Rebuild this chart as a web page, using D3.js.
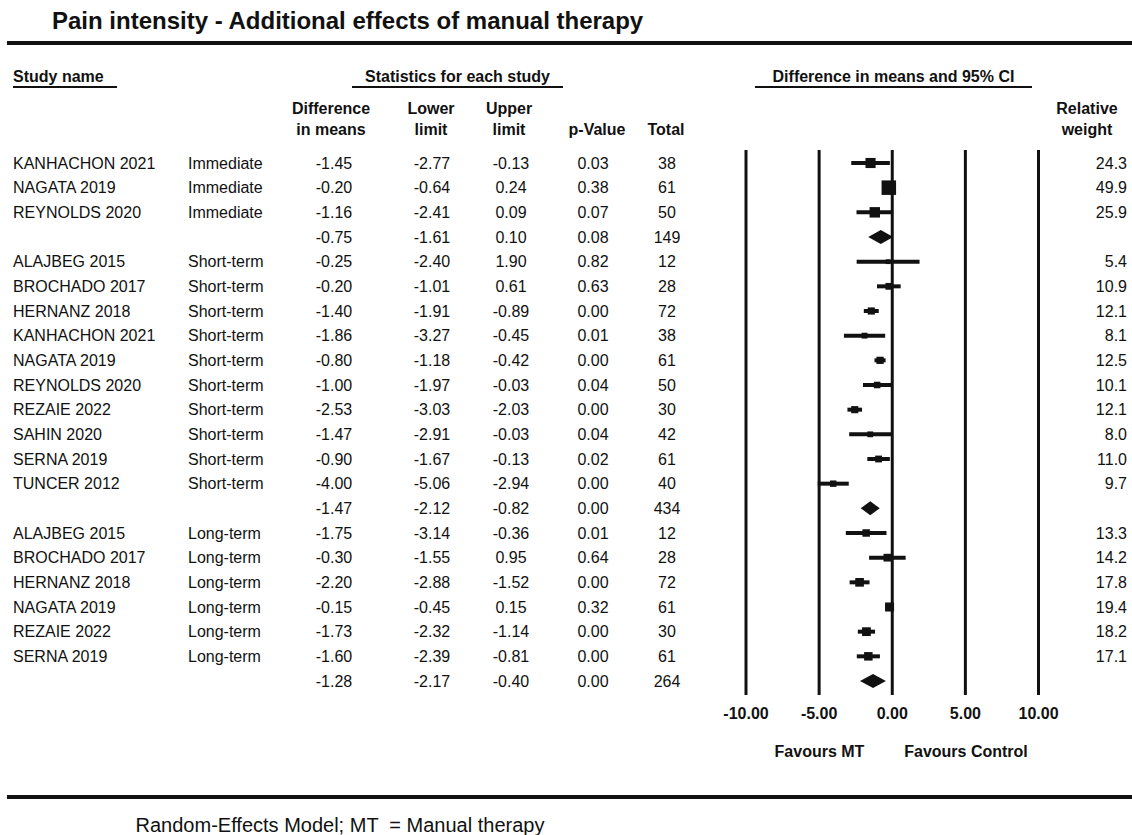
<!DOCTYPE html>
<html>
<head>
<meta charset="utf-8">
<script src="https://cdn.jsdelivr.net/npm/d3@7/dist/d3.min.js"></script>
<style>
  html, body { margin: 0; padding: 0; background: #fff; }
  svg { display: block; font-family: "Liberation Sans", Arial, sans-serif; }
  .axis .domain { display: none; }
</style>
</head>
<body>
<svg id="chart" width="1132" height="835"></svg>
<script>
// Study rows; an empty name marks the pooled (subgroup) estimate row
const studyNames = [
  "KANHACHON 2021", "NAGATA 2019", "REYNOLDS 2020", "",
  "ALAJBEG 2015", "BROCHADO 2017", "HERNANZ 2018", "KANHACHON 2021", "NAGATA 2019",
  "REYNOLDS 2020", "REZAIE 2022", "SAHIN 2020", "SERNA 2019", "TUNCER 2012", "",
  "ALAJBEG 2015", "BROCHADO 2017", "HERNANZ 2018", "NAGATA 2019", "REZAIE 2022", "SERNA 2019", ""
];
const timepoints = [
  "Immediate", "Immediate", "Immediate", "",
  "Short-term", "Short-term", "Short-term", "Short-term", "Short-term",
  "Short-term", "Short-term", "Short-term", "Short-term", "Short-term", "",
  "Long-term", "Long-term", "Long-term", "Long-term", "Long-term", "Long-term", ""
];
const diffInMeans = [
  -1.45, -0.20, -1.16, -0.75,
  -0.25, -0.20, -1.40, -1.86, -0.80, -1.00, -2.53, -1.47, -0.90, -4.00, -1.47,
  -1.75, -0.30, -2.20, -0.15, -1.73, -1.60, -1.28
];
const lowerLimit = [
  -2.77, -0.64, -2.41, -1.61,
  -2.40, -1.01, -1.91, -3.27, -1.18, -1.97, -3.03, -2.91, -1.67, -5.06, -2.12,
  -3.14, -1.55, -2.88, -0.45, -2.32, -2.39, -2.17
];
const upperLimit = [
  -0.13, 0.24, 0.09, 0.10,
  1.90, 0.61, -0.89, -0.45, -0.42, -0.03, -2.03, -0.03, -0.13, -2.94, -0.82,
  -0.36, 0.95, -1.52, 0.15, -1.14, -0.81, -0.40
];
const pValues = [
  0.03, 0.38, 0.07, 0.08,
  0.82, 0.63, 0.00, 0.01, 0.00, 0.04, 0.00, 0.04, 0.02, 0.00, 0.00,
  0.01, 0.64, 0.00, 0.32, 0.00, 0.00, 0.00
];
const totals = [
  38, 61, 50, 149,
  12, 28, 72, 38, 61, 50, 30, 42, 61, 40, 434,
  12, 28, 72, 61, 30, 61, 264
];
const relativeWeights = [
  24.3, 49.9, 25.9, null,
  5.4, 10.9, 12.1, 8.1, 12.5, 10.1, 12.1, 8.0, 11.0, 9.7, null,
  13.3, 14.2, 17.8, 19.4, 18.2, 17.1, null
];
const axisTicks = [-10, -5, 0, 5, 10];

const rows = studyNames.map((name, i) => ({
  name, time: timepoints[i], diff: diffInMeans[i], lo: lowerLimit[i], hi: upperLimit[i],
  p: pValues[i], total: totals[i], weight: relativeWeights[i], summary: name === ""
}));

const svg = d3.select("#chart");
const ink = "#111";
const fixed2 = v => v.toFixed(2);

// Row positions
const y = d3.scalePoint().domain(d3.range(rows.length)).range([163, 681]);
// Effect-size scale for the forest plot
const x = d3.scaleLinear().domain([-10, 10]).range([745.5, 1038]);
// Box side grows with the square root of the weight (area ~ weight)
const boxSide = d3.scaleSqrt().domain([0, 50]).range([0, 14.5]);

// Title and rules
svg.append("text").attr("x", 52).attr("y", 29)
  .attr("font-size", 24).attr("font-weight", "bold").attr("fill", ink)
  .text("Pain intensity - Additional effects of manual therapy");
svg.append("rect").attr("x", 7).attr("y", 41).attr("width", 1125).attr("height", 4).attr("fill", ink);
svg.append("rect").attr("x", 7).attr("y", 795).attr("width", 1125).attr("height", 4).attr("fill", ink);

// Section headers with underlines
const sections = [
  { text: "Study name", x: 13, anchor: "start", x0: 13, x1: 117 },
  { text: "Statistics for each study", x: 457.5, anchor: "middle", x0: 352, x1: 563 },
  { text: "Difference in means and 95% CI", x: 893.5, anchor: "middle", x0: 755, x1: 1032 }
];
sections.forEach(s => {
  svg.append("text").attr("x", s.x).attr("y", 82).attr("text-anchor", s.anchor)
    .attr("font-size", 16).attr("font-weight", "bold").attr("fill", ink).text(s.text);
  svg.append("rect").attr("x", s.x0).attr("y", 86).attr("width", s.x1 - s.x0).attr("height", 2).attr("fill", ink);
});

// Column headers
const colHeads = [
  { lines: ["Difference", "in means"], x: 331 },
  { lines: ["Lower", "limit"], x: 431 },
  { lines: ["Upper", "limit"], x: 509 },
  { lines: ["", "p-Value"], x: 597 },
  { lines: ["", "Total"], x: 666 },
  { lines: ["Relative", "weight"], x: 1087 }
];
colHeads.forEach(h => {
  h.lines.forEach((l, k) => {
    if (!l) return;
    svg.append("text").attr("x", h.x).attr("y", k === 0 ? 114 : 135)
      .attr("text-anchor", "middle").attr("font-size", 16).attr("font-weight", "bold")
      .attr("fill", ink).text(l);
  });
});

// Table body
const cols = [
  { key: "name", x: 13, anchor: "start", fmt: d => d },
  { key: "time", x: 188, anchor: "start", fmt: d => d },
  { key: "diff", x: 334, anchor: "middle", fmt: fixed2 },
  { key: "lo", x: 432, anchor: "middle", fmt: fixed2 },
  { key: "hi", x: 511, anchor: "middle", fmt: fixed2 },
  { key: "p", x: 593, anchor: "middle", fmt: fixed2 },
  { key: "total", x: 667, anchor: "middle", fmt: d => String(d) },
  { key: "weight", x: 1127, anchor: "end", fmt: d => d == null ? "" : d.toFixed(1) }
];
const body = svg.append("g").attr("font-size", 16).attr("fill", ink);
rows.forEach((r, i) => {
  cols.forEach(c => {
    const t = c.fmt(r[c.key]);
    if (t === "") return;
    body.append("text").attr("x", c.x).attr("y", y(i)).attr("dy", "0.36em")
      .attr("text-anchor", c.anchor).text(t);
  });
});

// Vertical reference lines and tick labels
const axis = d3.axisBottom(x)
  .tickValues(axisTicks)
  .tickFormat(fixed2)
  .tickSize(-(695 - 150))
  .tickPadding(13);
const gAxis = svg.append("g").attr("class", "axis").attr("transform", "translate(0,695)").call(axis);
gAxis.selectAll(".tick line").attr("stroke", ink).attr("stroke-width", 3);
gAxis.selectAll(".tick text").attr("fill", ink).attr("font-size", 16).attr("font-weight", "bold")
  .attr("font-family", "Liberation Sans, Arial, sans-serif");

// Forest marks
const plot = svg.append("g").attr("fill", ink).attr("stroke", ink);
rows.forEach((r, i) => {
  const cy = y(i);
  if (r.summary) {
    const h = 7;
    plot.append("path")
      .attr("d", `M${x(r.lo)},${cy} L${x(r.diff)},${cy - h} L${x(r.hi)},${cy} L${x(r.diff)},${cy + h} Z`)
      .attr("stroke", "none");
  } else {
    plot.append("line").attr("x1", x(r.lo)).attr("x2", x(r.hi)).attr("y1", cy).attr("y2", cy)
      .attr("stroke-width", 4);
    const s = boxSide(r.weight);
    plot.append("rect").attr("x", x(r.diff) - s / 2).attr("y", cy - s / 2)
      .attr("width", s).attr("height", s).attr("stroke", "none");
  }
});

// Direction labels
svg.append("text").attr("x", 819.5).attr("y", 757).attr("text-anchor", "middle")
  .attr("font-size", 16).attr("font-weight", "bold").attr("fill", ink).text("Favours MT");
svg.append("text").attr("x", 966).attr("y", 757).attr("text-anchor", "middle")
  .attr("font-size", 16).attr("font-weight", "bold").attr("fill", ink).text("Favours Control");

// Footnote
svg.append("text").attr("x", 340).attr("y", 832).attr("text-anchor", "middle")
  .style("white-space", "pre")
  .attr("font-size", 20).attr("fill", ink).text("Random-Effects Model; MT  = Manual therapy");
</script>
</body>
</html>
